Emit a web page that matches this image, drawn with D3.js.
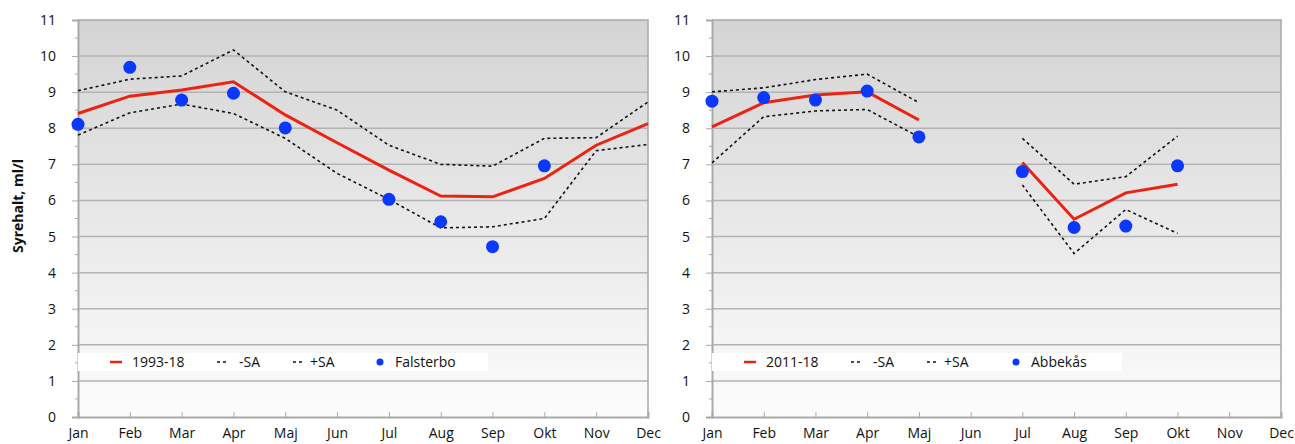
<!DOCTYPE html>
<html lang="sv">
<head>
<meta charset="UTF-8">
<title>Syrehalt</title>
<script src="https://d3js.org/d3.v7.min.js"></script>
<style>
  body { margin: 0; background: #fff; }
  svg text { font-family: "Open Sans", "Noto Sans", sans-serif; fill: #111; }
</style>
</head>
<body>
<svg width="1295" height="444"></svg>
<script>
const months = ["Jan", "Feb", "Mar", "Apr", "Maj", "Jun", "Jul", "Aug", "Sep", "Okt", "Nov", "Dec"];
const yTicks = [0, 1, 2, 3, 4, 5, 6, 7, 8, 9, 10, 11];

// Falsterbo, 1993-18
const meanLeft  = [8.41, 8.89, 9.06, 9.29, 8.37, 7.6, 6.84, 6.12, 6.1, 6.61, 7.53, 8.13];
const plusLeft  = [9.04, 9.36, 9.45, 10.17, 9.01, 8.5, 7.53, 7.0, 6.95, 7.72, 7.74, 8.73];
const minusLeft = [7.81, 8.43, 8.67, 8.41, 7.72, 6.75, 6.03, 5.24, 5.27, 5.5, 7.38, 7.55];
const falsterbo = [8.11, 9.69, 8.78, 8.97, 8.01, null, 6.03, 5.41, 4.72, 6.96, null, null];

// Abbekås, 2011-18
const meanRight  = [8.04, 8.71, 8.92, 9.01, 8.23, null, 7.05, 5.48, 6.21, 6.45, null, null];
const plusRight  = [9.01, 9.12, 9.35, 9.5, 8.71, null, 7.72, 6.45, 6.66, 7.78, null, null];
const minusRight = [7.04, 8.32, 8.48, 8.52, 7.76, null, 6.43, 4.53, 5.75, 5.09, null, null];
const abbekas    = [8.75, 8.85, 8.78, 9.03, 7.76, null, 6.8, 5.25, 5.29, 6.96, null, null];

const svg = d3.select("svg");
const plotTop = 20, plotBottom = 417;

const defs = svg.append("defs");
const grad = defs.append("linearGradient")
    .attr("id", "bg").attr("x1", 0).attr("y1", 0).attr("x2", 0).attr("y2", 1);
grad.append("stop").attr("offset", "0%").attr("stop-color", "#d4d4d4");
grad.append("stop").attr("offset", "100%").attr("stop-color", "#fcfcfc");

const y = d3.scaleLinear().domain([0, 11]).range([plotBottom, plotTop]);

function drawPanel(left, right, mean, plus, minus, obs, labels) {
    const x = d3.scalePoint().domain(months).range([left, right]);
    const g = svg.append("g");

    g.append("rect")
        .attr("x", left).attr("y", plotTop)
        .attr("width", right - left).attr("height", plotBottom - plotTop)
        .attr("fill", "url(#bg)");

    // gridlines
    g.append("g").selectAll("line")
        .data(yTicks.slice(1, -1))
        .join("line")
        .attr("x1", left).attr("x2", right)
        .attr("y1", d => y(d)).attr("y2", d => y(d))
        .attr("stroke", "#b3b3b3").attr("stroke-width", 1.5);

    // frame top and right
    g.append("path")
        .attr("d", `M${left},${plotTop}H${right}V${plotBottom}`)
        .attr("fill", "none").attr("stroke", "#a9a9a9").attr("stroke-width", 1.5);

    // y axis
    const yAxis = g.append("g")
        .attr("transform", `translate(${left},0)`)
        .call(d3.axisLeft(y).tickValues(yTicks).tickSize(6).tickPadding(16));
    yAxis.select(".domain").attr("stroke", "#a9a9a9").attr("stroke-width", 2);
    yAxis.selectAll(".tick line").attr("stroke", "#a9a9a9");
    yAxis.selectAll("text").style("font-size", "14px");
    g.append("g").selectAll("line")
        .data(d3.range(0.5, 11, 1))
        .join("line")
        .attr("x1", left - 3).attr("x2", left)
        .attr("y1", d => y(d)).attr("y2", d => y(d))
        .attr("stroke", "#a9a9a9");

    // x axis
    const xAxis = g.append("g")
        .attr("transform", `translate(0,${plotBottom})`)
        .call(d3.axisBottom(x).tickSize(-5).tickPadding(11));
    xAxis.select(".domain").attr("stroke", "#a9a9a9").attr("stroke-width", 2);
    xAxis.selectAll(".tick line").attr("stroke", "#a9a9a9");
    xAxis.selectAll("text").style("font-size", "14px");

    // legend box
    const lg = g.append("g");
    lg.append("rect")
        .attr("x", left).attr("y", 353)
        .attr("width", labels.boxW).attr("height", 18)
        .attr("fill", "#fff");

    const line = d3.line()
        .defined(d => d != null)
        .x((d, i) => x(months[i]))
        .y(d => y(d));

    [minus, plus].forEach(s => {
        g.append("path")
            .attr("d", line(s))
            .attr("fill", "none")
            .attr("stroke", "#111")
            .attr("stroke-width", 1.6)
            .attr("stroke-dasharray", "3,3");
    });
    g.append("path")
        .attr("d", line(mean))
        .attr("fill", "none")
        .attr("stroke", "#ee2211")
        .attr("stroke-width", 3);

    g.append("g").selectAll("circle")
        .data(obs.map((v, i) => ({m: months[i], v})).filter(d => d.v != null))
        .join("circle")
        .attr("cx", d => x(d.m))
        .attr("cy", d => y(d.v))
        .attr("r", 6.5)
        .attr("fill", "#0a38ff");

    // legend items
    const ly = 362;
    const lx = left;
    lg.raise();
    lg.append("line")
        .attr("x1", lx + 32).attr("x2", lx + 44).attr("y1", ly).attr("y2", ly)
        .attr("stroke", "#ee2211").attr("stroke-width", 2.5);
    lg.append("text").attr("x", lx + 54).attr("y", ly).attr("dy", "0.35em")
        .style("font-size", "14px").text(labels.mean);
    lg.append("line")
        .attr("x1", lx + 139).attr("x2", lx + 150).attr("y1", ly).attr("y2", ly)
        .attr("stroke", "#111").attr("stroke-width", 1.5).attr("stroke-dasharray", "3,3");
    lg.append("text").attr("x", lx + 161).attr("y", ly).attr("dy", "0.35em")
        .style("font-size", "14px").text("-SA");
    lg.append("line")
        .attr("x1", lx + 215).attr("x2", lx + 226).attr("y1", ly).attr("y2", ly)
        .attr("stroke", "#111").attr("stroke-width", 1.5).attr("stroke-dasharray", "3,3");
    lg.append("text").attr("x", lx + 232).attr("y", ly).attr("dy", "0.35em")
        .style("font-size", "14px").text("+SA");
    lg.append("circle")
        .attr("cx", labels.dotX).attr("cy", ly).attr("r", 3.5).attr("fill", "#0a38ff");
    lg.append("text").attr("x", labels.dotX + 15).attr("y", ly).attr("dy", "0.35em")
        .style("font-size", "14px").text(labels.obs);
}

drawPanel(78, 648, meanLeft, plusLeft, minusLeft, falsterbo,
    {mean: "1993-18", obs: "Falsterbo", boxW: 410, dotX: 380});
drawPanel(712, 1281, meanRight, plusRight, minusRight, abbekas,
    {mean: "2011-18", obs: "Abbekås", boxW: 410, dotX: 1016});

svg.append("text")
    .attr("transform", "translate(23,206) rotate(-90)")
    .attr("text-anchor", "middle")
    .style("font-size", "14px")
    .style("font-weight", "bold")
    .text("Syrehalt, ml/l");
</script>
</body>
</html>
